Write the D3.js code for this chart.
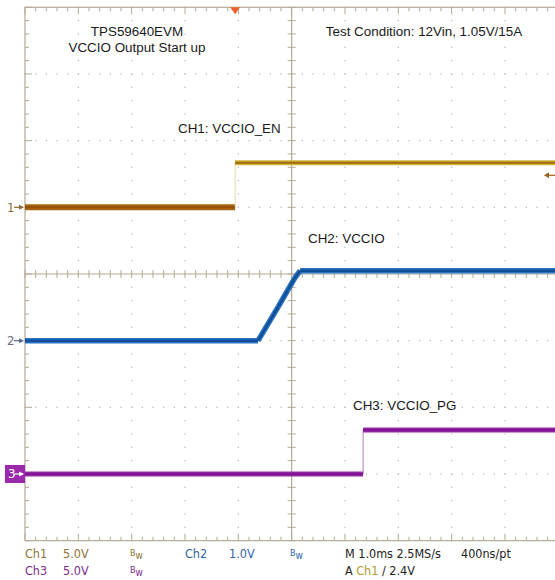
<!DOCTYPE html>
<html><head><meta charset="utf-8">
<script src="https://cdn.jsdelivr.net/npm/d3@7"></script>
<style>
html,body{margin:0;padding:0;background:#fff;}
svg{display:block;}
</style></head>
<body>
<svg id="c" width="555" height="580"></svg>
<script>
// ---------- DATA ----------
// time in ms relative to trigger (1.0 ms/div); voltages in volts
const timeDomain = [-3.94, 6.06];
const channelNames = ["CH1: VCCIO_EN", "CH2: VCCIO", "CH3: VCCIO_PG"];
const voltsPerDiv = [5.0, 1.0, 5.0];
const offsetsDiv = [1, -1, -3];
const ch1Time = [-3.94, 0.0, 0.0, 6.06];
const ch1Volt = [0, 0, 3.35, 3.35];
const ch2Time = [-3.94, 0.43, 0.81, 0.99, 1.12, 1.22, 6.06];
const ch2Volt = [0, 0, 0.51, 0.76, 0.94, 1.05, 1.05];
const ch3Time = [-3.94, 2.40, 2.40, 6.06];
const ch3Volt = [0, 0, 3.3, 3.3];
const titleLines = ["TPS59640EVM", "VCCIO Output Start up"];
const conditionText = "Test Condition: 12Vin, 1.05V/15A";
const triggerLevel = 2.4;

// ---------- SCALES ----------
const svg = d3.select("#c");
const L = 25, T = 7.3, divW = 53.33, divH = 66.67;
const R = L + 10 * divW, B = T + 8 * divH;
const x = d3.scaleLinear().domain(timeDomain).range([L, R]);
const yDiv = d3.scaleLinear().domain([-4, 4]).range([B, T]);
const xDiv = d3.scaleLinear().domain([0, 10]).range([L, R]);
const yCh = (ci, v) => yDiv(offsetsDiv[ci] + v / voltsPerDiv[ci]);

// ---------- GRID ----------
const grid = svg.append("g");
const gridCol = "#b3aa94", dotCol = "#bdbdbd";
const dots = [];
for (let i = 1; i < 10; i++) { if (i === 5) continue;
  for (let j = 0; j <= 40; j++) dots.push([xDiv(i), yDiv(-4 + j / 5)]); }
for (let k = 1; k < 8; k++) { if (k === 4) continue;
  for (let m = 0; m <= 50; m++) dots.push([xDiv(m / 5), yDiv(-4 + k)]); }
grid.selectAll("rect.dot").data(dots).join("rect").attr("class", "dot")
  .attr("x", d => d[0] - 0.6).attr("y", d => d[1] - 0.6).attr("width", 1.3).attr("height", 1.3).attr("fill", dotCol);
grid.append("rect").attr("x", L).attr("y", T).attr("width", R - L).attr("height", B - T)
  .attr("fill", "none").attr("stroke", gridCol).attr("stroke-width", 1.2);
grid.append("line").attr("x1", L).attr("x2", R).attr("y1", yDiv(0)).attr("y2", yDiv(0)).attr("stroke", gridCol).attr("stroke-width", 1.2);
grid.append("line").attr("x1", xDiv(5)).attr("x2", xDiv(5)).attr("y1", T).attr("y2", B).attr("stroke", gridCol).attr("stroke-width", 1.2);
const tk = [];
for (let m = 0; m <= 50; m++) {
  const xx = xDiv(m / 5), maj = m % 5 === 0;
  tk.push([xx, yDiv(0) - 4, xx, yDiv(0) + 4]);
  tk.push([xx, T, xx, T + (maj ? 7 : 4)]);
  tk.push([xx, B, xx, B - (maj ? 7 : 4)]);
}
for (let j = 0; j <= 40; j++) {
  const yy = yDiv(-4 + j / 5), maj = j % 5 === 0;
  tk.push([xDiv(5) - 4, yy, xDiv(5) + 4, yy]);
  tk.push([L, yy, L + (maj ? 7 : 4), yy]);
}
grid.selectAll("line.tk").data(tk).join("line").attr("class", "tk")
  .attr("x1", d => d[0]).attr("y1", d => d[1]).attr("x2", d => d[2]).attr("y2", d => d[3])
  .attr("stroke", gridCol).attr("stroke-width", 1);

// ---------- TRACES ----------
function segs(times, volts, ci) {
  const out = [];
  for (let i = 0; i < times.length - 1; i++)
    out.push({x1: x(times[i]), y1: yCh(ci, volts[i]), x2: x(times[i + 1]), y2: yCh(ci, volts[i + 1]),
      vert: times[i] === times[i + 1], v: volts[i]});
  return out;
}
const traces = svg.append("g");
function drawTrace(data, halo, core, hw, cw, vertCol) {
  const g = traces.append("g");
  const f = (c, d) => typeof c === "function" ? c(d) : c;
  g.selectAll("line.h").data(data).join("line").attr("class", "h")
    .attr("x1", d => d.x1).attr("y1", d => d.y1).attr("x2", d => d.x2).attr("y2", d => d.y2)
    .attr("stroke", d => d.vert ? vertCol : f(halo, d))
    .attr("stroke-width", d => d.vert ? 1 : f(hw, d)).attr("stroke-linecap", "butt");
  g.selectAll("line.c").data(data.filter(d => !d.vert)).join("line").attr("class", "c")
    .attr("x1", d => d.x1).attr("y1", d => d.y1).attr("x2", d => d.x2).attr("y2", d => d.y2)
    .attr("stroke", d => f(core, d)).attr("stroke-width", cw);
}
drawTrace(segs(ch1Time, ch1Volt, 0), d => d.v > 1 ? "#d6b235" : "#a8650f", d => d.v > 1 ? "#9a6c12" : "#935208", d => d.v > 1 ? 5 : 6, 2, "#e8d8b0");
drawTrace(segs(ch2Time, ch2Volt, 1), "#2a72c0", "#0f4f98", 5.5, 2.5, "#2a72c0");
drawTrace(segs(ch3Time, ch3Volt, 2), "#9a2aab", "#801790", 5, 2.5, "#b27cbc");

// ---------- MARKERS ----------
const mk = svg.append("g").attr("font-family", "'Liberation Sans Narrow','DejaVu Sans Condensed',sans-serif").attr("font-size", 13);
function arrowRight(g, y, col) {
  g.append("line").attr("x1", 14).attr("x2", 23).attr("y1", y).attr("y2", y).attr("stroke", col).attr("stroke-width", 1.2);
  g.append("path").attr("d", `M24,${y} L19,${y - 2.5} L19,${y + 2.5} Z`).attr("fill", col);
}
mk.append("text").attr("x", 7).attr("y", yCh(0, 0) + 4.5).attr("fill", "#8c6a3a").text("1");
arrowRight(mk, yCh(0, 0), "#8c6a3a");
mk.append("text").attr("x", 7).attr("y", yCh(1, 0) + 4.5).attr("fill", "#6a6a78").text("2");
arrowRight(mk, yCh(1, 0), "#5a6a88");
mk.append("rect").attr("x", 5).attr("y", yCh(2, 0) - 9).attr("width", 20).attr("height", 18).attr("fill", "#9a2aab");
mk.append("text").attr("x", 8).attr("y", yCh(2, 0) + 4.5).attr("fill", "#fff").text("3");
arrowRight(mk, yCh(2, 0), "#fff");
const ty = yCh(0, triggerLevel);
mk.append("line").attr("x1", 545).attr("x2", 555).attr("y1", ty).attr("y2", ty).attr("stroke", "#9a6020").attr("stroke-width", 1.2);
mk.append("path").attr("d", `M544,${ty} L549,${ty - 3} L549,${ty + 3} Z`).attr("fill", "#9a6020");
const tx = x(0);
svg.append("path").attr("d", `M${tx - 5},${T} L${tx + 5},${T} L${tx},${T + 7} Z`).attr("fill", "#f0602a");

// ---------- LABELS ----------
const lab = svg.append("g").attr("font-family", "'Liberation Sans',Arial,sans-serif").attr("font-size", 13.4).attr("fill", "#1a1a1a");
lab.selectAll("text.t").data(titleLines).join("text").attr("class", "t")
  .attr("x", 137).attr("y", (d, i) => 36 + i * 15.5).attr("text-anchor", "middle").text(d => d);
lab.append("text").attr("x", 424).attr("y", 36).attr("text-anchor", "middle").text(conditionText);
const chLabelPos = [[178, 133], [308, 243], [353, 410]];
lab.selectAll("text.ch").data(channelNames).join("text").attr("class", "ch")
  .attr("x", (d, i) => chLabelPos[i][0]).attr("y", (d, i) => chLabelPos[i][1]).text(d => d);

// ---------- STATUS ----------
const st = svg.append("g").attr("font-family", "'Liberation Sans Narrow','DejaVu Sans Condensed',sans-serif").attr("font-size", 12.5);
const olive = "#8a7535", blue = "#2f62a8", purple = "#7d2a8c";
function bw(xp, yp, col) {
  const t = st.append("text").attr("x", xp).attr("y", yp).attr("fill", col);
  t.append("tspan").attr("font-size", 9).attr("dy", -2).text("B");
  t.append("tspan").attr("font-size", 10).attr("dy", 2.5).text("w");
}
const r1 = 558, r2 = 575;
st.append("text").attr("x", 25).attr("y", r1).attr("fill", olive).text("Ch1");
st.append("text").attr("x", 63).attr("y", r1).attr("fill", olive).text("5.0V");
bw(130, r1, olive);
st.append("text").attr("x", 185).attr("y", r1).attr("fill", blue).text("Ch2");
st.append("text").attr("x", 229).attr("y", r1).attr("fill", blue).text("1.0V");
bw(290, r1, blue);
st.append("text").attr("x", 345).attr("y", r1).attr("fill", "#222").text("M 1.0ms 2.5MS/s");
st.append("text").attr("x", 461).attr("y", r1).attr("fill", "#222").text("400ns/pt");
st.append("text").attr("x", 25).attr("y", r2).attr("fill", purple).text("Ch3");
st.append("text").attr("x", 63).attr("y", r2).attr("fill", purple).text("5.0V");
bw(130, r2, purple);
const a = st.append("text").attr("x", 345).attr("y", r2).attr("fill", "#222");
a.append("tspan").text("A ");
a.append("tspan").attr("fill", "#b09a30").text("Ch1");
a.append("tspan").text("  \u2215  " + triggerLevel.toFixed(1) + "V");
</script>
</body></html>
